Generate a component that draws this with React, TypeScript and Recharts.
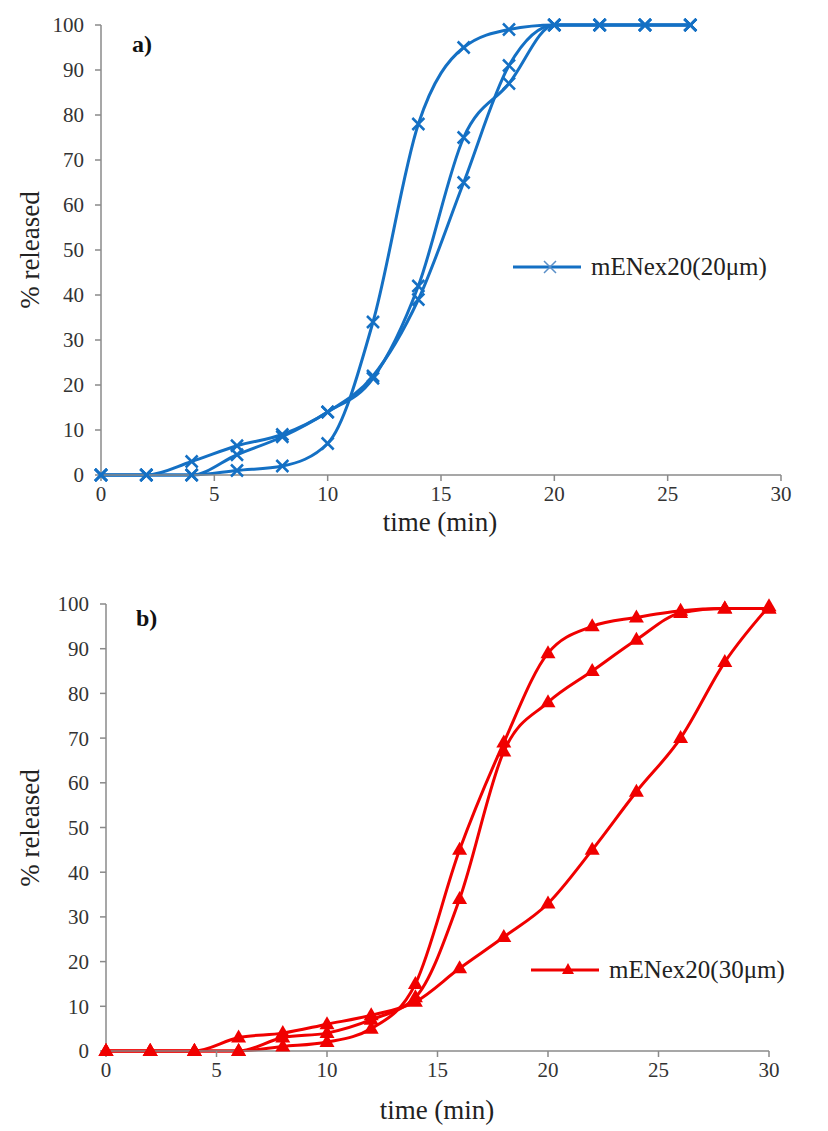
import { LineChart, Line, XAxis, YAxis, Legend } from "recharts";

// release profiles, sampled every 2 min
const timesA = [0, 2, 4, 6, 8, 10, 12, 14, 16, 18, 20, 22, 24, 26];
const a1 = [0, 0, 0, 1, 2, 7, 34, 78, 95, 99, 100, 100, 100, 100];
const a2 = [0, 0, 3, 6.5, 9, 14, 22, 39, 65, 91, 100, 100, 100, 100];
const a3 = [0, 0, 0, 4.5, 8.5, 14, 21.5, 42, 75, 87, 100, 100, 100, 100];

const timesB = [0, 2, 4, 6, 8, 10, 12, 14, 16, 18, 20, 22, 24, 26, 28, 30];
const b1 = [0, 0, 0, 0, 1, 2, 5, 15, 45, 69, 89, 95, 97, 98.5, 99, 99];
const b2 = [0, 0, 0, 0, 3, 4, 7, 12, 34, 67, 78, 85, 92, 98, 99, 99];
const b3 = [0, 0, 0, 3, 4, 6, 8, 11, 18.5, 25.5, 33, 45, 58, 70, 87, 99.5];

const xTicks = [0, 5, 10, 15, 20, 25, 30];
const yTicks = [0, 10, 20, 30, 40, 50, 60, 70, 80, 90, 100];

const BLUE = "#1470c4";
const RED = "#f00000";
const AXIS = "#8a8a8a";
const FONT = "Liberation Serif, DejaVu Serif, serif";

const rowsA = timesA.map((t, i) => ({ t, s1: a1[i], s2: a2[i], s3: a3[i] }));
const rowsB = timesB.map((t, i) => ({ t, s1: b1[i], s2: b2[i], s3: b3[i] }));

const tickStyle = { fontFamily: FONT, fontSize: 21, fill: "#333" };

function crossDot(props: any) {
  const { cx, cy, index } = props;
  if (cx == null || cy == null) return <g key={index} />;
  return (
    <path
      key={index}
      d={`M${cx - 6},${cy - 6}L${cx + 6},${cy + 6}M${cx - 6},${cy + 6}L${cx + 6},${cy - 6}`}
      stroke={BLUE}
      strokeWidth={2.5}
      fill="none"
    />
  );
}

function triDot(props: any) {
  const { cx, cy, index } = props;
  if (cx == null || cy == null) return <g key={index} />;
  return (
    <polygon
      key={index}
      points={`${cx},${cy - 8} ${cx + 7.5},${cy + 5} ${cx - 7.5},${cy + 5}`}
      fill={RED}
    />
  );
}

function LegendEntry({ color, marker, text }: { color: string; marker: "cross" | "tri"; text: string }) {
  return (
    <div style={{ display: "flex", alignItems: "center", whiteSpace: "nowrap" }}>
      <svg width={72} height={20}>
        <line x1={0} y1={10} x2={68} y2={10} stroke={color} strokeWidth={3} />
        {marker === "cross" ? (
          <path d="M31,4L43,16M31,16L43,4" stroke="#5a8fc8" strokeWidth={1.5} />
        ) : (
          <polygon points="37,3 43,14 31,14" fill={color} />
        )}
      </svg>
      <span style={{ fontFamily: FONT, fontSize: 25, color: "#222", marginLeft: 6 }}>{text}</span>
    </div>
  );
}

function Title({ text, x, y, rotate }: { text: string; x: number; y: number; rotate?: boolean }) {
  return (
    <div
      style={{
        position: "absolute",
        left: x,
        top: y,
        transform: `translate(-50%, -50%)${rotate ? " rotate(-90deg)" : ""}`,
        fontFamily: FONT,
        fontSize: 27,
        color: "#222",
        whiteSpace: "nowrap",
      }}
    >
      {text}
    </div>
  );
}

function Panel({
  rows,
  color,
  dot,
  marker,
  legendText,
  legendPos,
  margin,
  height,
}: {
  rows: any[];
  color: string;
  dot: (p: any) => any;
  marker: "cross" | "tri";
  legendText: string;
  legendPos: { left: number; top: number };
  margin: { top: number; right: number; bottom: number; left: number };
  height: number;
}) {
  return (
    <LineChart width={828} height={height} data={rows} margin={margin}>
      <XAxis
        dataKey="t"
        type="number"
        domain={[0, 30]}
        ticks={xTicks}
        height={30}
        stroke={AXIS}
        strokeWidth={1.5}
        tickSize={6}
        tickMargin={5}
        tick={tickStyle}
      />
      <YAxis
        type="number"
        domain={[0, 100]}
        ticks={yTicks}
        width={60}
        stroke={AXIS}
        strokeWidth={1.5}
        tickSize={6}
        tickMargin={11}
        tick={tickStyle}
      />
      <Legend
        layout="horizontal"
        verticalAlign="middle"
        align="center"
        wrapperStyle={{ left: legendPos.left, top: legendPos.top, width: 320 }}
        content={() => <LegendEntry color={color} marker={marker} text={legendText} />}
      />
      {(["s1", "s2", "s3"] as const).map((k) => (
        <Line
          key={k}
          dataKey={k}
          type="monotone"
          stroke={color}
          strokeWidth={3}
          dot={dot}
          activeDot={false}
          isAnimationActive={false}
        />
      ))}
    </LineChart>
  );
}

export default function App() {
  return (
    <div style={{ position: "absolute", left: 0, top: 0, width: 828, height: 1131, background: "#fff" }}>
      <div style={{ position: "absolute", left: 0, top: 0 }}>
        <Panel
          rows={rowsA}
          color={BLUE}
          dot={crossDot}
          marker="cross"
          legendText="mENex20(20μm)"
          legendPos={{ left: 513, top: 253 }}
          margin={{ top: 25, right: 47, bottom: 55, left: 41 }}
          height={560}
        />
      </div>
      <div style={{ position: "absolute", left: 0, top: 560 }}>
        <Panel
          rows={rowsB}
          color={RED}
          dot={triDot}
          marker="tri"
          legendText="mENex20(30μm)"
          legendPos={{ left: 531, top: 396 }}
          margin={{ top: 44, right: 59, bottom: 50, left: 46 }}
          height={571}
        />
      </div>
      <div style={{ position: "absolute", left: 132, top: 31, fontFamily: FONT, fontSize: 24, fontWeight: "bold", color: "#111" }}>a)</div>
      <div style={{ position: "absolute", left: 136, top: 605, fontFamily: FONT, fontSize: 24, fontWeight: "bold", color: "#111" }}>b)</div>
      <Title text="% released" x={30} y={250} rotate />
      <Title text="% released" x={30} y={828} rotate />
      <Title text="time (min)" x={440} y={522} />
      <Title text="time (min)" x={437} y={1110} />
    </div>
  );
}
